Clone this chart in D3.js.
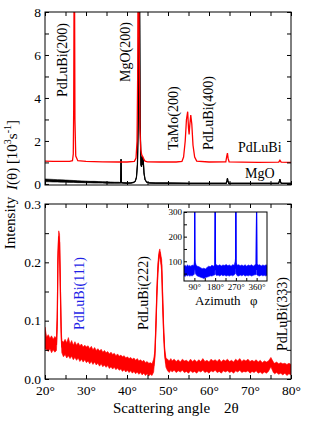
<!DOCTYPE html>
<html>
<head>
<meta charset="utf-8">
<script src="https://cdn.jsdelivr.net/npm/d3@7"></script>
<style>
body { margin: 0; background: #fff; }
svg { display: block; font-family: "Liberation Serif", "Times New Roman", serif; }
</style>
</head>
<body>
<svg id="chart" width="327" height="423"></svg>
<script>
// top panel, I(theta) in 10^3 s^-1 : [2theta, value]
const redTop = [[20,1.06],[22,1.05],[24,1.05],[26,1.05],[26.7,1.08],[26.9,1.4],[27.0,3.5],[27.1,9.5],[27.2,9.5],[27.3,3],[27.5,1.3],[28,1.08],
  [30,1.05],[34,1.03],[38,1.02],[40,1.02],[41.8,1.05],[42.2,1.2],[42.45,2.0],[42.6,5],[42.7,9.5],[42.85,9.5],[43.0,6],[43.15,2.6],
  [43.35,1.6],[43.6,1.35],[43.75,1.3],[43.9,1.25],[44.1,1.15],[44.4,1.06],[45,1.03],[48,1.02],[52,1.02],[53.4,1.05],[53.8,1.25],
  [54.2,2.0],[54.5,3.0],[54.8,3.36],[55.0,2.6],[55.15,2.3],[55.3,2.7],[55.55,3.2],[55.8,2.8],[56.1,1.8],[56.5,1.25],[57,1.06],
  [60,1.02],[64.1,1.03],[64.35,1.3],[64.5,1.43],[64.65,1.2],[64.9,1.03],[68,1.01],[72,1.0],[77.0,1.01],[77.3,1.1],[77.6,1.01],[80,1.0]];

// MgO substrate: [2theta, low, high]
const blackTop = [[20,0.1,0.23],[21,0.1,0.22],[22,0.09,0.21],[23,0.09,0.2],[24,0.08,0.19],[25,0.08,0.18],[26,0.07,0.17],[27,0.07,0.16],
  [28,0.06,0.15],[29,0.06,0.14],[30,0.05,0.13],[31,0.05,0.12],[32,0.04,0.12],[33,0.04,0.11],[34,0.04,0.1],[35,0.03,0.1],[36,0.03,0.09],
  [37,0.03,0.08],[38,0.03,0.08],[38.45,0.04,0.06],[38.55,1.15,1.15],[38.65,0.05,0.07],[39,0.03,0.07],[40,0.02,0.06],[41,0.03,0.06],
  [41.6,0.06,0.08],[42.0,0.12,0.12],[42.3,0.3,0.3],[42.55,0.9,0.9],[42.75,3,3],[42.9,9.5,9.5],[43.05,9.5,9.5],[43.2,3,3],[43.4,0.9,0.9],
  [43.55,0.8,0.8],[43.7,1.27,1.27],[43.85,0.9,0.9],[43.95,1.15,1.15],[44.15,0.5,0.5],[44.4,0.2,0.2],[44.8,0.08,0.08],[45.5,0.03,0.06],
  [47,0.02,0.05],[50,0.02,0.05],[55,0.02,0.04],[60,0.02,0.04],[64.2,0.02,0.04],[64.4,0.15,0.15],[64.5,0.26,0.26],[64.6,0.15,0.15],
  [64.8,0.02,0.04],[70,0.02,0.04],[77.0,0.02,0.04],[77.2,0.15,0.15],[77.3,0.22,0.22],[77.4,0.12,0.12],[77.6,0.02,0.04],[80,0.02,0.04]];

// bottom panel, intensity: [2theta, low, high]
const redBottom = [[20.0,.052,.089],[20.4,.050,.072],[20.8,.047,.076],[21.2,.052,.070],[21.6,.045,.074],[22.0,.050,.068],[22.4,.046,.073],
  [22.8,.049,.070],[23.0,.09,.12],[23.15,.19,.22],[23.35,.235,.254],[23.55,.22,.248],[23.75,.14,.17],[23.95,.07,.09],[24.1,.045,.066],
  [24.5,.038,.063],[24.9,.042,.068],[25.3,.036,.062],[25.7,.040,.071],[26.1,.035,.060],[26.5,.039,.066],[26.9,.033,.058],[27.3,.037,.064],
  [27.7,.032,.058],[28.1,.036,.062],[28.5,.030,.057],[28.9,.034,.060],[29.3,.029,.055],[29.7,.033,.058],[30.1,.028,.055],[30.5,.031,.057],
  [30.9,.026,.052],[31.3,.030,.056],[31.7,.025,.050],[32.1,.029,.054],[32.5,.024,.049],[32.9,.027,.052],[33.3,.022,.048],[33.7,.026,.051],
  [34.1,.021,.046],[34.5,.024,.049],[34.9,.020,.045],[35.3,.023,.047],[35.7,.018,.043],[36.1,.021,.046],[36.5,.017,.042],[36.9,.020,.044],
  [37.3,.016,.040],[37.7,.019,.043],[38.1,.015,.039],[38.5,.017,.041],[38.9,.013,.038],[39.3,.016,.040],[39.7,.012,.036],[40.1,.015,.038],
  [40.5,.011,.035],[40.9,.014,.037],[41.3,.010,.034],[41.7,.013,.036],[42.1,.009,.032],[42.5,.012,.035],[42.9,.008,.031],[43.3,.011,.033],
  [43.7,.007,.030],[44.1,.010,.032],[44.5,.006,.028],[44.9,.009,.030],[45.3,.005,.027],[45.7,.008,.028],[46.1,.006,.026],[46.5,.012,.034],
  [46.8,.035,.048],[47.05,.08,.10],[47.3,.14,.16],[47.55,.18,.20],[47.8,.205,.218],[48.0,.212,.223],[48.2,.200,.215],[48.45,.185,.205],
  [48.7,.12,.15],[48.95,.07,.09],[49.2,.038,.052],[49.5,.020,.036],[49.9,.014,.034],[50.3,.011,.031],[50.7,.015,.035],[51.0,.012,.031],
  [51.5,.015,.034],[52.0,.011,.030],[52.5,.014,.033],[53.0,.012,.029],[53.5,.015,.034],[54.0,.011,.031],[54.5,.013,.032],[55.0,.010,.029],
  [55.5,.014,.034],[56.0,.011,.030],[56.5,.013,.033],[57.0,.010,.029],[57.5,.014,.033],[58.0,.012,.030],[58.5,.015,.035],[59.0,.011,.030],
  [59.5,.013,.032],[60.0,.010,.029],[60.5,.014,.034],[61.0,.012,.031],[61.5,.015,.033],[62.0,.011,.030],[62.5,.013,.034],[63.0,.010,.029],
  [63.5,.014,.033],[64.0,.012,.031],[64.5,.014,.034],[65.0,.011,.030],[65.5,.013,.032],[66.0,.010,.029],[66.5,.014,.034],[67.0,.012,.031],
  [67.5,.015,.035],[68.0,.011,.030],[68.5,.013,.033],[69.0,.012,.031],[69.5,.014,.034],[70.0,.010,.030],[70.5,.013,.032],[71.0,.011,.030],
  [71.5,.014,.033],[72.0,.010,.029],[72.5,.012,.032],[73.0,.009,.028],[73.5,.012,.031],[74.0,.010,.029],[74.5,.013,.031],[74.8,.017,.034],
  [75.1,.021,.037],[75.4,.016,.033],[75.7,.011,.029],[76.0,.009,.027],[76.5,.011,.029],[77.0,.008,.026],[77.5,.010,.028],[78.0,.007,.026],
  [78.5,.010,.027],[79.0,.006,.025],[79.5,.009,.027],[80.0,.007,.025]];

// inset, azimuthal scan: [phi, low, high]
const blueInset = [[45,42,80],[50,38,84],[55,44,78],[60,40,86],[65,45,80],[70,39,83],[75,43,79],[80,40,85],[85,44,82],[89,46,88],
  [90.5,60,100],[91.3,330,330],[92.2,80,110],[94,50,95],[98,45,84],[103,40,80],[110,38,78],[117,35,74],[124,33,70],[131,30,72],
  [138,34,69],[145,36,75],[152,38,80],[159,41,78],[166,40,84],[173,43,80],[179,45,86],[180.5,330,330],[181.8,48,90],[186,42,85],
  [193,44,82],[200,40,86],[207,45,81],[214,41,85],[221,44,83],[228,40,87],[235,43,82],[242,40,85],[249,44,80],[256,41,86],[263,45,84],
  [267,48,100],[268.8,60,115],[269.7,330,330],[270.7,50,95],[275,42,84],[282,40,86],[289,44,82],[296,41,85],[303,45,81],[310,40,86],
  [317,43,80],[324,41,85],[331,44,82],[338,40,86],[345,43,80],[352,45,85],[358,46,88],[359.8,330,330],[361,45,90],[366,42,84],
  [373,40,86],[380,44,81],[387,41,85],[394,43,82],[401,40,86],[405,44,83]];

const peakLabelsTop = [["PdLuBi(200)", 62, 97], ["MgO(200)", 125, 82], ["TaMo(200)", 173, 150], ["PdLuBi(400)", 208, 150]];
const peakLabelsBottom = [["PdLuBi(111)", 79, 330, "#1f1fe6"], ["PdLuBi(222)", 143, 330, "#000"], ["PdLuBi(333)", 282, 351, "#000"]];
const insetXTicks = [90, 180, 270, 360];
const insetYTicks = [100, 200, 300];

const svg = d3.select('#chart');
const tickFont = 13.5;

const x = d3.scaleLinear().domain([20, 80]).range([45, 291]);
const yTop = d3.scaleLinear().domain([-0.05, 8]).range([185, 12]);
const yBot = d3.scaleLinear().domain([0, 0.3]).range([379, 204]);
const xi = d3.scaleLinear().domain([45, 405]).range([184, 267]);
const yi = d3.scaleLinear().domain([20, 300]).range([281, 212]);

const defs = svg.append('defs');
function clip(id, x0, y0, w, h) {
  defs.append('clipPath').attr('id', id).append('rect').attr('x', x0).attr('y', y0).attr('width', w).attr('height', h);
}
clip('cTop', 45, 12, 246, 173);
clip('cBot', 45, 204, 246, 175);
clip('cIn', 184, 212, 83, 69);

function styleAxis(g, size) {
  g.attr('font-size', size).attr('font-family', null);
  g.select('.domain').remove();
  g.selectAll('line').attr('stroke', '#000');
  g.selectAll('text').attr('fill', '#000');
}

// draw a band series (low/high) plus a line through its middle
function band(g, data, xs, ys, color, w) {
  g.append('path').datum(data)
    .attr('d', d3.area().x(d => xs(d[0])).y0(d => ys(d[1])).y1(d => ys(d[2])))
    .attr('fill', color).attr('stroke', color).attr('stroke-width', 0.6);
  g.append('path').datum(data)
    .attr('d', d3.line().x(d => xs(d[0])).y(d => ys((d[1] + d[2]) / 2)))
    .attr('fill', 'none').attr('stroke', color).attr('stroke-width', w);
}

// ---- top panel
const gTop = svg.append('g').attr('clip-path', 'url(#cTop)');
band(gTop, blackTop, x, yTop, '#000', 1.2);
gTop.append('path').datum(redTop)
  .attr('d', d3.line().x(d => x(d[0])).y(d => yTop(d[1])))
  .attr('fill', 'none').attr('stroke', '#ff0000').attr('stroke-width', 1.3);

const xt5 = d3.range(20, 81, 5);
svg.append('g').attr('transform', 'translate(0,185)')
  .call(d3.axisBottom(x).tickValues(xt5).tickSize(-4).tickFormat(''))
  .call(g => styleAxis(g, tickFont));
svg.append('g').attr('transform', 'translate(0,12)')
  .call(d3.axisTop(x).tickValues(xt5).tickSize(-4).tickFormat(''))
  .call(g => styleAxis(g, tickFont));
svg.append('g').attr('transform', 'translate(45,0)')
  .call(d3.axisLeft(yTop).tickValues(d3.range(0, 9)).tickSize(-4).tickPadding(4).tickFormat(d => d % 2 === 0 ? d : ''))
  .call(g => styleAxis(g, tickFont));
svg.append('g').attr('transform', 'translate(291,0)')
  .call(d3.axisRight(yTop).tickValues(d3.range(0, 9)).tickSize(-4).tickFormat(''))
  .call(g => styleAxis(g, tickFont));
svg.append('rect').attr('x', 45).attr('y', 12).attr('width', 246).attr('height', 173)
  .attr('fill', 'none').attr('stroke', '#000').attr('stroke-width', 1);

peakLabelsTop.forEach(([t, cx, by]) => {
  svg.append('text').attr('transform', `translate(${cx + 5},${by}) rotate(-90)`)
    .attr('font-size', 14).text(t);
});
svg.append('text').attr('x', 238).attr('y', 152).attr('font-size', 14).text('PdLuBi');
svg.append('text').attr('x', 245).attr('y', 178).attr('font-size', 14).text('MgO');

const yt = svg.append('text').attr('transform', 'translate(17,155) rotate(-90)')
  .attr('text-anchor', 'middle').attr('font-size', 15);
yt.append('tspan').attr('font-style', 'italic').text('I');
yt.append('tspan').text('(θ) [10');
yt.append('tspan').attr('font-size', 10).attr('dy', -6).text('3');
yt.append('tspan').attr('dy', 6).text('s');
yt.append('tspan').attr('font-size', 10).attr('dy', -6).text('-1');
yt.append('tspan').attr('dy', 6).text(']');

// ---- bottom panel
const gBot = svg.append('g').attr('clip-path', 'url(#cBot)');
band(gBot, redBottom, x, yBot, '#ff0000', 1.2);

svg.append('g').attr('transform', 'translate(0,379)')
  .call(d3.axisBottom(x).tickValues(xt5).tickSize(-4).tickPadding(6).tickFormat(d => d % 10 === 0 ? d + '°' : ''))
  .call(g => styleAxis(g, tickFont));
svg.append('g').attr('transform', 'translate(0,204)')
  .call(d3.axisTop(x).tickValues(xt5).tickSize(-4).tickFormat(''))
  .call(g => styleAxis(g, tickFont));
const yt5 = d3.range(0, 7).map(i => i * 0.05);
svg.append('g').attr('transform', 'translate(45,0)')
  .call(d3.axisLeft(yBot).tickValues(yt5).tickSize(-4).tickPadding(4)
    .tickFormat(d => Math.round(d * 100) % 10 === 0 ? d3.format('.1f')(d) : ''))
  .call(g => styleAxis(g, tickFont));
svg.append('g').attr('transform', 'translate(291,0)')
  .call(d3.axisRight(yBot).tickValues(yt5).tickSize(-4).tickFormat(''))
  .call(g => styleAxis(g, tickFont));
svg.append('rect').attr('x', 45).attr('y', 204).attr('width', 246).attr('height', 175)
  .attr('fill', 'none').attr('stroke', '#000').attr('stroke-width', 1);

peakLabelsBottom.forEach(([t, cx, by, c]) => {
  svg.append('text').attr('transform', `translate(${cx + 5},${by}) rotate(-90)`)
    .attr('font-size', 14).attr('fill', c).text(t);
});

svg.append('text').attr('transform', 'translate(15,223) rotate(-90)')
  .attr('text-anchor', 'middle').attr('font-size', 15).text('Intensity');
const xtl = svg.append('text').attr('y', 413).attr('font-size', 15);
xtl.append('tspan').attr('x', 113).text('Scattering angle');
xtl.append('tspan').attr('x', 224).text('2θ');

// ---- inset
svg.append('rect').attr('x', 184).attr('y', 212).attr('width', 83).attr('height', 69).attr('fill', '#fff');
const gIn = svg.append('g').attr('clip-path', 'url(#cIn)');
band(gIn, blueInset, xi, yi, '#0000ff', 1.1);
svg.append('g').attr('transform', 'translate(0,281)')
  .call(d3.axisBottom(xi).tickValues(d3.range(90, 405, 45)).tickSize(-3).tickPadding(3)
    .tickFormat(d => insetXTicks.includes(d) ? d + '°' : ''))
  .call(g => styleAxis(g, 9));
svg.append('g').attr('transform', 'translate(184,0)')
  .call(d3.axisLeft(yi).tickValues(d3.range(50, 301, 50)).tickSize(-3).tickPadding(2)
    .tickFormat(d => insetYTicks.includes(d) ? d : ''))
  .call(g => styleAxis(g, 9));
svg.append('rect').attr('x', 184).attr('y', 212).attr('width', 83).attr('height', 69)
  .attr('fill', 'none').attr('stroke', '#000').attr('stroke-width', 1);
svg.append('text').attr('x', 195).attr('y', 305).attr('font-size', 13).text('Azimuth');
svg.append('text').attr('x', 250).attr('y', 305).attr('font-size', 13).text('φ');
</script>
</body>
</html>
